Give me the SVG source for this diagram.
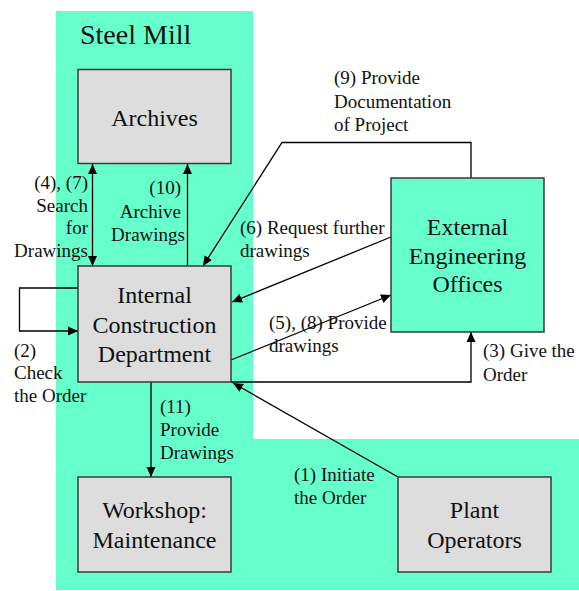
<svg xmlns="http://www.w3.org/2000/svg" width="579" height="591" viewBox="0 0 579 591">
  <style>
    .area { fill: #66FFCC; }
    .box { fill: #DDDDDD; stroke: #3a3a3a; stroke-width: 1.5; }
    .ext { fill: #66FFCC; stroke: #3a3a3a; stroke-width: 1.5; }
    text { font-family: 'Liberation Serif', serif; fill: #111; }
    .node { font-size: 24px; text-anchor: middle; }
    .lbl { font-size: 19px; }
    .title { font-size: 28px; }
    .wire { fill: none; stroke: #000; stroke-width: 1.3; }
  </style>
  <defs>
    <marker id="head" viewBox="0 0 10 10" refX="10" refY="5" markerWidth="10" markerHeight="10" markerUnits="userSpaceOnUse" orient="auto-start-reverse">
      <path d="M0,0.5 L10,5 L0,9.5 Z" fill="#000"/>
    </marker>
  </defs>

  <!-- Steel Mill site area (L-shaped) -->
  <g id="steel-mill">
    <path class="area" d="M56,11 H253 V439 H579 V590 H56 Z"/>
    <text class="title" x="80" y="44">Steel Mill</text>
  </g>

  <!-- Connectors -->
  <g id="connectors">
    <!-- (4),(7) search for drawings -->
    <line class="wire" x1="92.5" y1="164" x2="92.5" y2="266" marker-start="url(#head)" marker-end="url(#head)"/>
    <!-- (10) archive drawings -->
    <line class="wire" x1="187.5" y1="266" x2="187.5" y2="164" marker-end="url(#head)"/>
    <!-- (9) provide documentation of project -->
    <polyline class="wire" points="471,178 471,142.5 282,142.5 203,266" marker-end="url(#head)"/>
    <!-- (6) request further drawings -->
    <line class="wire" x1="391" y1="237" x2="232" y2="302" marker-end="url(#head)"/>
    <!-- (5),(8) provide drawings -->
    <line class="wire" x1="231" y1="360" x2="391" y2="295" marker-end="url(#head)"/>
    <!-- (3) give the order -->
    <polyline class="wire" points="231,382 471,382 471,332" marker-end="url(#head)"/>
    <!-- (2) check the order -->
    <polyline class="wire" points="78,288 19.5,288 19.5,331 78,331" marker-end="url(#head)"/>
    <!-- (11) provide drawings -->
    <line class="wire" x1="151" y1="382" x2="151" y2="477" marker-end="url(#head)"/>
    <!-- (1) initiate the order -->
    <line class="wire" x1="398" y1="477" x2="233" y2="383" marker-end="url(#head)"/>
  </g>

  <!-- Connector labels -->
  <g id="labels">
    <text class="lbl" text-anchor="end" x="88" y="189">(4), (7)</text>
    <text class="lbl" text-anchor="end" x="88" y="212">Search</text>
    <text class="lbl" text-anchor="end" x="88" y="234">for</text>
    <text class="lbl" text-anchor="end" x="88" y="257">Drawings</text>

    <text class="lbl" text-anchor="end" x="181" y="194">(10)</text>
    <text class="lbl" text-anchor="end" x="181" y="218">Archive</text>
    <text class="lbl" text-anchor="end" x="185" y="241">Drawings</text>

    <text class="lbl" x="334" y="84">(9) Provide</text>
    <text class="lbl" x="334" y="108">Documentation</text>
    <text class="lbl" x="334" y="131">of Project</text>

    <text class="lbl" x="240" y="234">(6) Request further</text>
    <text class="lbl" x="240" y="257">drawings</text>

    <text class="lbl" x="269" y="329">(5), (8) Provide</text>
    <text class="lbl" x="269" y="352">drawings</text>

    <text class="lbl" x="483" y="357">(3) Give the</text>
    <text class="lbl" x="483" y="381">Order</text>

    <text class="lbl" x="14" y="357">(2)</text>
    <text class="lbl" x="14" y="379">Check</text>
    <text class="lbl" x="14" y="402">the Order</text>

    <text class="lbl" x="160" y="413">(11)</text>
    <text class="lbl" x="160" y="436">Provide</text>
    <text class="lbl" x="160" y="459">Drawings</text>

    <text class="lbl" x="294" y="481">(1) Initiate</text>
    <text class="lbl" x="294" y="504">the Order</text>
  </g>

  <!-- Nodes -->
  <g id="archives">
    <rect class="box" x="78" y="69.5" width="153" height="94"/>
    <text class="node" x="154.5" y="126">Archives</text>
  </g>

  <g id="internal-construction">
    <rect class="box" x="78" y="266" width="153" height="116"/>
    <text class="node" x="154.5" y="303">Internal</text>
    <text class="node" x="154.5" y="333">Construction</text>
    <text class="node" x="154.5" y="362">Department</text>
  </g>

  <g id="external-engineering">
    <rect class="ext" x="391" y="178" width="153" height="154"/>
    <text class="node" x="467.5" y="235">External</text>
    <text class="node" x="467.5" y="264">Engineering</text>
    <text class="node" x="467.5" y="292">Offices</text>
  </g>

  <g id="workshop">
    <rect class="box" x="78" y="477" width="153" height="95"/>
    <text class="node" x="154.5" y="518">Workshop:</text>
    <text class="node" x="154.5" y="548">Maintenance</text>
  </g>

  <g id="plant-operators">
    <rect class="box" x="398" y="477" width="153" height="95"/>
    <text class="node" x="474.5" y="518">Plant</text>
    <text class="node" x="474.5" y="548">Operators</text>
  </g>
</svg>
